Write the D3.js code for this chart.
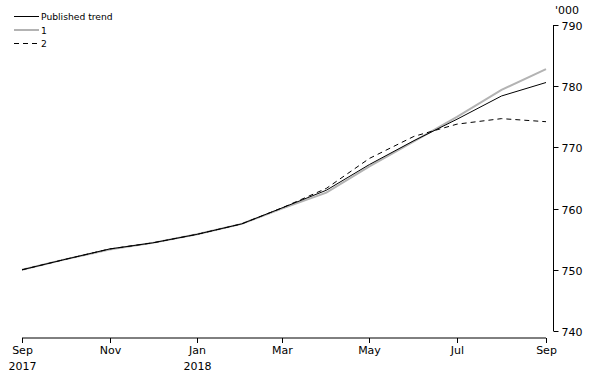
<!DOCTYPE html>
<html><head><meta charset="utf-8">
<script src="https://cdn.jsdelivr.net/npm/d3@7"></script>
<style>
body{margin:0;background:#fff;}
svg{display:block;font-family:"DejaVu Sans",sans-serif;}
</style></head>
<body><svg id="c" width="591" height="378"></svg>
<script>
const months = ["2017-09","2017-10","2017-11","2017-12","2018-01","2018-02","2018-03","2018-04","2018-05","2018-06","2018-07","2018-08","2018-09"];
const published = [750.0,751.7,753.4,754.4,755.8,757.5,760.1,763.0,767.2,771.1,774.6,778.4,780.6];
const series1   = [750.0,751.7,753.3,754.4,755.8,757.5,760.0,762.6,766.9,771.0,775.0,779.4,782.8];
const series2   = [750.0,751.7,753.4,754.4,755.8,757.5,760.1,763.3,768.2,771.8,773.8,774.7,774.2];
const xTicks = ["2017-09","2017-11","2018-01","2018-03","2018-05","2018-07","2018-09"];
const xTickLabels = [["Sep","2017"],["Nov",""],["Jan","2018"],["Mar",""],["May",""],["Jul",""],["Sep",""]];
const yTicks = [740,750,760,770,780,790];
const seriesNames = ["Published trend","1","2"];

const parse = d3.timeParse("%Y-%m");
const svg = d3.select("#c");
const x = d3.scaleTime().domain([parse("2017-09"), parse("2018-09")]).range([22,546]);
const y = d3.scaleLinear().domain([740,790]).range([331,25]);

// x axis
const xa = svg.append("g").attr("transform","translate(0,338)");
xa.append("line").attr("x1",22).attr("x2",546).attr("stroke","#000");
xTicks.forEach((t,i)=>{
  const px = Math.round(x(parse(t)))+0.5;
  xa.append("line").attr("x1",px).attr("x2",px).attr("y1",0).attr("y2",5).attr("stroke","#000");
  xa.append("text").attr("x",px).attr("y",16).attr("text-anchor","middle").attr("font-size",11).text(xTickLabels[i][0]);
  if (xTickLabels[i][1]) xa.append("text").attr("x",px).attr("y",32).attr("text-anchor","middle").attr("font-size",11).text(xTickLabels[i][1]);
});

// y axis (right)
const ya = svg.append("g").attr("transform","translate(553.5,0)");
ya.append("line").attr("y1",y(790)).attr("y2",y(740)).attr("stroke","#000");
yTicks.forEach(v=>{
  const py = Math.round(y(v))+0.5;
  ya.append("line").attr("x1",0).attr("x2",5).attr("y1",py).attr("y2",py).attr("stroke","#000");
  ya.append("text").attr("x",8).attr("y",py+4).attr("font-size",11).text(v);
});
svg.append("text").attr("x",555).attr("y",14).attr("font-size",11).text("'000");

const line = d3.line().x((d,i)=>x(parse(months[i]))).y(d=>y(d));
svg.append("path").datum(series1).attr("d",line).attr("fill","none").attr("stroke","#b3b3b3").attr("stroke-width",2);
svg.append("path").datum(series2).attr("d",line).attr("fill","none").attr("stroke","#000").attr("stroke-width",1).attr("stroke-dasharray","5,4");
svg.append("path").datum(published).attr("d",line).attr("fill","none").attr("stroke","#000").attr("stroke-width",1);

// legend
const styles = [{c:"#000",w:1,d:null},{c:"#b3b3b3",w:2,d:null},{c:"#000",w:1,d:"5,4"}];
seriesNames.forEach((n,i)=>{
  const ly = 16.5 + i*13.5;
  const l = svg.append("line").attr("x1",14).attr("x2",39).attr("y1",ly).attr("y2",ly).attr("stroke",styles[i].c).attr("stroke-width",styles[i].w);
  if (styles[i].d) l.attr("stroke-dasharray",styles[i].d);
  svg.append("text").attr("x",41).attr("y",ly+3.5).attr("font-size",9.2).text(n);
});
</script></body></html>
